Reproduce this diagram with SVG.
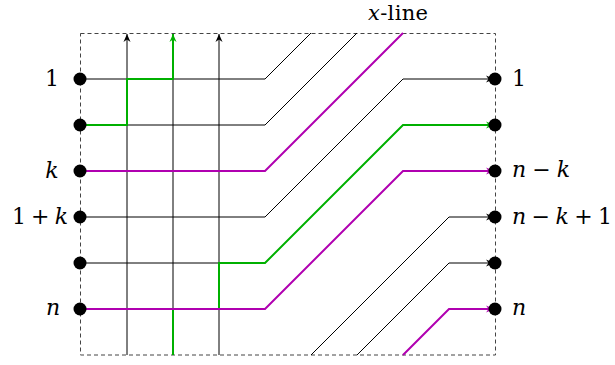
<svg xmlns="http://www.w3.org/2000/svg" width="615" height="365" viewBox="0 0 615 365">
<style>
.box{fill:none;stroke:#444;stroke-width:1;stroke-dasharray:4,3}
.bk{fill:none;stroke:#000;stroke-width:1}
.gr{fill:none;stroke:#00b000;stroke-width:2}
.mg{fill:none;stroke:#b000b0;stroke-width:2}
.nd{fill:#000}
.it{font-style:italic}
</style>
<defs>
<marker id="ab" viewBox="-10 -5 12 10" refX="0" refY="0" markerWidth="12" markerHeight="10" markerUnits="userSpaceOnUse" orient="auto">
<path d="M0,0 L-8,-3.5 L-5.5,0 L-8,3.5 Z" fill="#000"/>
</marker>
<marker id="ag" viewBox="-10 -5 12 10" refX="0" refY="0" markerWidth="12" markerHeight="10" markerUnits="userSpaceOnUse" orient="auto">
<path d="M0,0 L-8,-3.5 L-5.5,0 L-8,3.5 Z" fill="#00b000"/>
</marker>
<marker id="am" viewBox="-10 -5 12 10" refX="0" refY="0" markerWidth="12" markerHeight="10" markerUnits="userSpaceOnUse" orient="auto">
<path d="M0,0 L-8,-3.5 L-5.5,0 L-8,3.5 Z" fill="#b000b0"/>
</marker>
</defs>
<rect class="box" x="80.5" y="33.5" width="415" height="321.5"/>
<g id="connectors">
<path class="bk" d="M127,355 V34" marker-end="url(#ab)"/>
<path class="bk" d="M173,309 V79"/>
<path class="bk" d="M219,355 V34" marker-end="url(#ab)"/>
<path class="bk" d="M80,79 H265 L311,33"/>
<path class="bk" d="M80,125 H265 L357,33"/>
<path class="bk" d="M80,217 H265 L403,79 H494" marker-end="url(#ab)"/>
<path class="bk" d="M80,263 H219"/>
<path class="bk" d="M311,355 L449,217 H494" marker-end="url(#ab)"/>
<path class="bk" d="M357,355 L449,263 H494" marker-end="url(#ab)"/>
<path class="gr" d="M80,125 H127 V79 H173 V34" marker-end="url(#ag)"/>
<path class="gr" d="M173,355 V309 H219 V263 H265 L403,125 H494" marker-end="url(#ag)"/>
<path class="mg" d="M80,171 H265 L403,33"/>
<path class="mg" d="M80,309 H265 L403,171 H494" marker-end="url(#am)"/>
<path class="mg" d="M403,355 L449,309 H494" marker-end="url(#am)"/>
</g>
<g font-family="DejaVu Serif, serif" font-size="22" fill="#000">
<g id="L1"><circle class="nd" cx="80" cy="79" r="6.5"/><text x="52" y="86" text-anchor="middle">1</text></g>
<g id="L2"><circle class="nd" cx="80" cy="125" r="6.5"/></g>
<g id="Lk"><circle class="nd" cx="80" cy="171" r="6.5"/><text class="it" x="52" y="178" text-anchor="middle">k</text></g>
<g id="L1k"><circle class="nd" cx="80" cy="217" r="6.5"/><text x="12" y="224" textLength="56" lengthAdjust="spacing">1 + <tspan class="it">k</tspan></text></g>
<g id="L5"><circle class="nd" cx="80" cy="263" r="6.5"/></g>
<g id="Ln"><circle class="nd" cx="80" cy="309" r="6.5"/><text class="it" x="53" y="315" text-anchor="middle">n</text></g>
<g id="R1"><circle class="nd" cx="495" cy="79" r="6.5"/><text x="512" y="86">1</text></g>
<g id="R2"><circle class="nd" cx="495" cy="125" r="6.5"/></g>
<g id="Rnk"><circle class="nd" cx="495" cy="171" r="6.5"/><text x="512" y="177" textLength="58" lengthAdjust="spacing"><tspan class="it">n</tspan> − <tspan class="it">k</tspan></text></g>
<g id="Rnk1"><circle class="nd" cx="495" cy="217" r="6.5"/><text x="512" y="224" textLength="100" lengthAdjust="spacing"><tspan class="it">n</tspan> − <tspan class="it">k</tspan> + 1</text></g>
<g id="R5"><circle class="nd" cx="495" cy="263" r="6.5"/></g>
<g id="Rn"><circle class="nd" cx="495" cy="309" r="6.5"/><text class="it" x="512" y="315">n</text></g>
<g id="xline"><text x="368" y="20" font-size="21" textLength="60" lengthAdjust="spacing"><tspan class="it">x</tspan>-line</text></g>
</g>
</svg>
